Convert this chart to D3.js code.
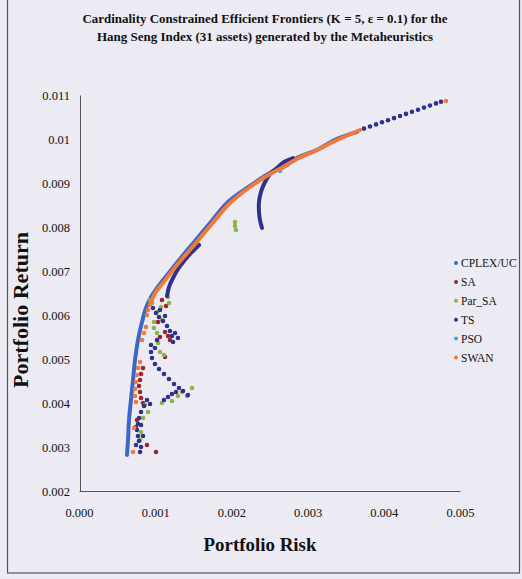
<!DOCTYPE html>
<html>
<head>
<meta charset="utf-8">
<style>
    body {
        margin: 0;
        background-color: #ecebf3;
    }
    svg text {
        font-family: "Liberation Serif", "DejaVu Serif", serif;
        fill: #111;
    }
    .axis path {
        stroke: #555;
        stroke-width: 1px;
    }
</style>
</head>
<body>
<svg id="chart" width="522" height="579"></svg>
<script src="https://d3js.org/d3.v7.min.js"></script>
<script>
// tick values
var xTicks = [0, 0.001, 0.002, 0.003, 0.004, 0.005];
var yTicks = [0.002, 0.003, 0.004, 0.005, 0.006, 0.007, 0.008, 0.009, 0.01, 0.011];

var seriesNames = ["CPLEX/UC", "SA", "Par_SA", "TS", "PSO", "SWAN"];
var seriesColors = ["#3b68c6", "#9c2430", "#8db446", "#30318a", "#4ea3d6", "#ef7a3a"];

// [risk, return] pairs
// dense runs (drawn as a thick trace)
var cplexCurve = [[0.00063,0.00282],[0.000643,0.00316],[0.000656,0.00361],[0.000682,0.00407],[0.000709,0.00452],
    [0.000735,0.00498],[0.000774,0.00543],[0.000827,0.005841],[0.000879,0.006159],[0.000945,0.006409],
    [0.001024,0.006614],[0.001115,0.006818],[0.00122,0.007045],[0.001325,0.007273],[0.001522,0.007682],
    [0.00172,0.00809],[0.001955,0.00857],[0.00224,0.00893],
    [0.00251,0.00923],[0.00268,0.00936],[0.00286,0.00957],[0.00312,0.00975],[0.00336,0.00998],[0.00365,0.01016]];

var swanCurve = [[0.000932,0.006227],[0.001,0.0065],[0.001102,0.006727],[0.001286,0.007136],[0.001535,0.007636],
    [0.001732,0.008045],[0.001969,0.008523],[0.002244,0.008909],[0.002507,0.009205],[0.002677,0.009364],
    [0.002861,0.009545],[0.003123,0.00975],[0.00336,0.009955],[0.003688,0.010205]];

var tsHook = [[0.002808,0.009568],[0.00269,0.009477],[0.002598,0.009341],[0.002507,0.009205],[0.002441,0.009023],
    [0.002388,0.008795],[0.002362,0.008568],[0.002362,0.008341],[0.002375,0.008159],[0.002402,0.007977]];

var tsUpper = [[0.001155,0.006432],[0.001181,0.006636],[0.001234,0.006841],[0.0013,0.007045],[0.001378,0.007227],
    [0.001470,0.007409],[0.001575,0.007591]];

// single points
var saPoints = [[0.00084,0.004795],[0.000814,0.004659],[0.000801,0.004523],[0.000787,0.004386],[0.000801,0.00425],
    [0.000814,0.004114],[0.00084,0.004],[0.000761,0.003614],[0.000748,0.003455],[0.000892,0.003045],[0.00101,0.002886],
    [0.001037,0.005841],[0.001129,0.005614],[0.001168,0.005523],[0.001063,0.0055],[0.001129,0.005045],
    [0.001089,0.006341],[0.001142,0.006205],[0.001194,0.005432]];

var parSaPoints = [[0.002047,0.008114],[0.002047,0.008023],[0.00206,0.007932],
    [0.001168,0.006409],[0.001181,0.006273],[0.001076,0.006182],[0.000958,0.006273],[0.001024,0.006068],
    [0.000932,0.006341],[0.001089,0.005886],
    [0.000984,0.005841],[0.000984,0.005705],[0.001024,0.005591],[0.001037,0.005364],[0.001063,0.005159],
    [0.001115,0.005091],[0.001352,0.00425],[0.001299,0.004159],[0.00122,0.004045],[0.001089,0.004],
    [0.001483,0.004341],[0.001417,0.004159],
    [0.000866,0.003955],[0.000906,0.003795],[0.00084,0.003659],[0.000814,0.003341],[0.000801,0.003159]];

var tsPoints = [[0.003740,0.010236],[0.003819,0.010284],[0.003898,0.010332],[0.003976,0.01038],[0.004055,0.010427],
    [0.004134,0.010475],[0.004213,0.010523],[0.004291,0.01057],[0.00437,0.010618],[0.004449,0.010666],
    [0.004528,0.010714],[0.004606,0.010761],[0.004685,0.010809],[0.004751,0.010848],
    [0.000971,0.006159],[0.00101,0.006045],[0.00105,0.005955],[0.001102,0.005864],[0.001155,0.00575],
    [0.001194,0.005636],[0.00122,0.005523],[0.001234,0.005386],
    [0.001063,0.006114],[0.001129,0.005977],[0.00126,0.005591],[0.001299,0.005477],[0.001024,0.005432],[0.000997,0.00525],
    [0.000945,0.005318],[0.000945,0.005159],[0.000958,0.005023],[0.000997,0.004886],[0.00105,0.004773],
    [0.001115,0.004659],[0.001181,0.004545],[0.001247,0.004432],[0.001312,0.004341],[0.001365,0.004273],
    [0.00143,0.004182],[0.001273,0.00425],
    [0.00122,0.004205],[0.001168,0.004136],[0.001115,0.004068],[0.000892,0.004068],[0.000932,0.003977],
    [0.000853,0.003932],[0.000814,0.003795],[0.000787,0.003659],[0.000774,0.003523],[0.000761,0.003386],
    [0.000814,0.0035],[0.00084,0.00325],[0.000748,0.003045],
    [0.000774,0.00325],[0.000787,0.003136],[0.000814,0.003],[0.000801,0.002886]];

var psoPoints = [[0.002638,0.009273],[0.00273,0.009409]];

var swanPoints = [[0.000906,0.006114],[0.000892,0.006],[0.000879,0.005727],[0.000853,0.005591],[0.000827,0.005432],
    [0.000801,0.004932],[0.000774,0.004795],[0.000761,0.004636],[0.000748,0.004477],[0.000735,0.004318],
    [0.000735,0.004159],[0.000748,0.004023],[0.000722,0.003432],[0.000709,0.002886],[0.004816,0.010864]];

var series = [
    {curves: [cplexCurve], points: []},
    {curves: [], points: saPoints},
    {curves: [], points: parSaPoints},
    {curves: [tsUpper, tsHook], points: tsPoints},
    {curves: [], points: psoPoints},
    {curves: [swanCurve], points: swanPoints}
];

var svg = d3.select("#chart");

svg.append("rect")
    .attr("x", 7.5).attr("y", -1)
    .attr("width", 512).attr("height", 574)
    .attr("fill", "#ecebf3")
    .attr("stroke", "#555")
    .attr("stroke-width", 1.2);

var x = d3.scaleLinear().domain([0, 0.005]).range([79, 460]);
var y = d3.scaleLinear().domain([0.002, 0.011]).range([491, 95]);

// axes
svg.append("g")
    .attr("class", "axis")
    .attr("transform", "translate(80,0)")
    .call(d3.axisLeft(y).tickValues(yTicks).tickSize(0).tickPadding(10)
        .tickFormat(function(d) { return d3.format(".3~f")(d); }))
    .selectAll("text").style("font-size", "12.5px").style("font-family", "Liberation Serif");

svg.append("g")
    .attr("class", "axis")
    .attr("transform", "translate(0,491)")
    .call(d3.axisBottom(x).tickValues(xTicks).tickSize(0).tickPadding(17)
        .tickFormat(d3.format(".3f")))
    .selectAll("text").style("font-size", "12.5px").style("font-family", "Liberation Serif");

svg.selectAll(".axis .domain").attr("stroke", "#555");

// marks
var line = d3.line()
    .x(function(d) { return x(d[0]); })
    .y(function(d) { return y(d[1]); })
    .curve(d3.curveCatmullRom);

var plot = svg.append("g");
series.forEach(function(s, i) {
    var g = plot.append("g");
    s.curves.forEach(function(c) {
        g.append("path")
            .attr("d", line(c))
            .attr("fill", "none")
            .attr("stroke", seriesColors[i])
            .attr("stroke-width", 4)
            .attr("stroke-linecap", "round");
    });
    g.selectAll("circle")
        .data(s.points)
        .enter().append("circle")
        .attr("cx", function(d) { return x(d[0]); })
        .attr("cy", function(d) { return y(d[1]); })
        .attr("r", 2.3)
        .attr("fill", seriesColors[i]);
});

// titles
svg.append("text")
    .attr("x", 265).attr("y", 23)
    .attr("text-anchor", "middle")
    .attr("textLength", 365).attr("lengthAdjust", "spacingAndGlyphs")
    .style("font-size", "13.5px").style("font-weight", "bold")
    .text("Cardinality Constrained Efficient Frontiers (K = 5, ε = 0.1) for the");

svg.append("text")
    .attr("x", 265).attr("y", 41)
    .attr("text-anchor", "middle")
    .attr("textLength", 336).attr("lengthAdjust", "spacingAndGlyphs")
    .style("font-size", "13.5px").style("font-weight", "bold")
    .text("Hang Seng Index (31 assets) generated by the Metaheuristics");

svg.append("text")
    .attr("transform", "translate(28,310) rotate(-90)")
    .attr("text-anchor", "middle")
    .attr("textLength", 156).attr("lengthAdjust", "spacingAndGlyphs")
    .style("font-size", "20px").style("font-weight", "bold")
    .text("Portfolio Return");

svg.append("text")
    .attr("x", 260).attr("y", 551)
    .attr("text-anchor", "middle")
    .attr("textLength", 113).attr("lengthAdjust", "spacingAndGlyphs")
    .style("font-size", "19px").style("font-weight", "bold")
    .text("Portfolio Risk");

// legend
var legend = svg.append("g");
var items = legend.selectAll("g")
    .data(seriesNames)
    .enter().append("g")
    .attr("transform", function(d, i) { return "translate(456," + (263 + i * 18.9) + ")"; });

items.append("circle")
    .attr("r", 2)
    .attr("fill", function(d, i) { return seriesColors[i]; });

items.append("text")
    .attr("x", 5)
    .attr("dy", "0.35em")
    .style("font-size", "11.5px")
    .text(function(d) { return d; });
</script>
</body>
</html>
